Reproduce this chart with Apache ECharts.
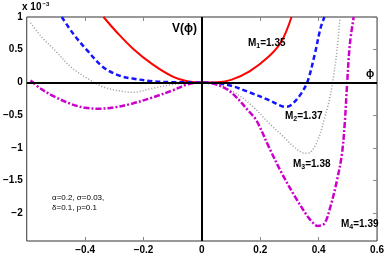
<!DOCTYPE html>
<html>
<head>
<meta charset="utf-8">
<script src="https://cdn.jsdelivr.net/npm/echarts@6/dist/echarts.min.js"></script>
<style>
  html, body { margin: 0; padding: 0; background: #fff; }
  #chart { width: 387px; height: 255px; }
</style>
</head>
<body>
<div id="chart"></div>
<script>
// V(phi) curves, values in units of 1e-3
const phiM1 = [-0.337, -0.29, -0.237, -0.17, -0.10, -0.05, 0, 0.05, 0.10, 0.163, 0.23, 0.273, 0.307];
const vM1 = [1.0, 0.76, 0.52, 0.28, 0.09, 0.02, 0, 0.005, 0.04, 0.17, 0.40, 0.63, 1.0];

const phiM2 = [-0.48, -0.44, -0.393, -0.337, -0.28, -0.237, -0.17, -0.10, 0, 0.05, 0.10, 0.163, 0.23, 0.273, 0.29, 0.307, 0.34, 0.363, 0.387, 0.407, 0.42];
const vM2 = [1.0, 0.74, 0.49, 0.23, 0.10, 0.06, 0.02, 0.005, 0, -0.01, -0.05, -0.15, -0.27, -0.36, -0.37, -0.34, -0.17, 0.03, 0.44, 0.84, 1.0];

const phiM3 = [-0.587, -0.55, -0.503, -0.447, -0.38, -0.337, -0.28, -0.237, -0.17, -0.10, -0.05, 0, 0.05, 0.10, 0.163, 0.23, 0.273, 0.32, 0.353, 0.373, 0.397, 0.42, 0.435, 0.447, 0.463, 0.473];
const vM3 = [0.91, 0.70, 0.49, 0.23, 0.03, -0.07, -0.13, -0.15, -0.09, -0.03, -0.01, 0, -0.02, -0.12, -0.32, -0.62, -0.80, -1.0, -1.08, -1.06, -0.88, -0.55, -0.30, -0.02, 0.5, 1.0];

const phiM4 = [-0.587, -0.55, -0.503, -0.447, -0.40, -0.35, -0.30, -0.237, -0.17, -0.10, -0.05, 0, 0.05, 0.10, 0.163, 0.187, 0.23, 0.273, 0.32, 0.363, 0.387, 0.397, 0.42, 0.44, 0.463, 0.48, 0.49, 0.497, 0.507, 0.52];
const vM4 = [0.03, -0.10, -0.22, -0.33, -0.385, -0.40, -0.38, -0.32, -0.23, -0.12, -0.03, 0, -0.03, -0.15, -0.45, -0.58, -0.99, -1.38, -1.75, -2.05, -2.17, -2.19, -2.15, -1.90, -1.49, -1.08, -0.58, -0.05, 0.59, 1.0];

const xTicks = [-0.4, -0.2, 0, 0.2, 0.4, 0.6];
const yTicks = [-2, -1.5, -1, -0.5, 0, 0.5, 1];

const pairs = (xs, ys) => xs.map((x, i) => [x, ys[i]]);
const minus = v => String(v).replace('-', '\u2212');

const chart = echarts.init(document.getElementById('chart'), null, { renderer: 'canvas' });

const FONT = 'Liberation Sans, Arial, sans-serif';
const labelFont = { fontFamily: FONT, fontWeight: 'bold', fontSize: 10, color: '#000' };
const sub = { fontFamily: FONT, fontWeight: 'bold', fontSize: 7, padding: [6, 0, 0, 0], fill: '#000' };
const main = { fontFamily: FONT, fontWeight: 'bold', fontSize: 10, fill: '#000' };

function mLabel(left, top, n, val) {
    return {
        type: 'text', left: left, top: top, z: 100,
        style: {
            text: '{a|M}{s|' + n + '}{a|=' + val + '}',
            rich: { a: main, s: sub }
        }
    };
}

function curve(name, xs, ys, lineStyle, extra) {
    return Object.assign({
        type: 'line', name: name, data: pairs(xs, ys),
        smooth: 0.35, symbol: 'none',
        lineStyle: lineStyle
    }, extra || {});
}

const option = {
    animation: false,
    grid: { left: 22, right: 6, top: 17, bottom: 14, show: true, borderColor: '#333', borderWidth: 1 },
    xAxis: [
        {
            type: 'value', min: -0.6, max: 0.6, position: 'bottom',
            axisLine: { show: false, onZero: false },
            splitLine: { show: false },
            axisTick: { show: true, inside: true, length: 4, customValues: xTicks, lineStyle: { color: '#888' } },
            axisLabel: { show: true, customValues: xTicks, margin: 4, formatter: minus, ...labelFont }
        },
        {
            type: 'value', min: -0.6, max: 0.6, position: 'top',
            axisLine: { show: false, onZero: false },
            splitLine: { show: false },
            axisTick: { show: true, inside: true, length: 4, customValues: xTicks, lineStyle: { color: '#888' } },
            axisLabel: { show: false }
        }
    ],
    yAxis: [
        {
            type: 'value', min: -2.42, max: 1, position: 'left',
            axisLine: { show: false, onZero: false },
            splitLine: { show: false },
            axisTick: { show: false },
            axisLabel: { show: true, customValues: yTicks, margin: 4, formatter: minus, ...labelFont }
        },
        {
            type: 'value', min: -2.42, max: 1, position: 'right',
            axisLine: { show: false, onZero: false },
            splitLine: { show: false },
            axisTick: { show: true, inside: true, length: 4, customValues: yTicks, lineStyle: { color: '#888' } },
            axisLabel: { show: false }
        }
    ],
    series: [
        curve('M1', phiM1, vM1, { color: '#ff0000', width: 2, type: 'solid' }, {
            markLine: {
                silent: true, symbol: 'none', label: { show: false },
                lineStyle: { color: '#000', width: 2, type: 'solid' },
                data: [{ xAxis: 0 }, { yAxis: 0 }]
            }
        }),
        curve('M2', phiM2, vM2, { color: '#1414ff', width: 2.5, type: [5, 3] }),
        curve('M3', phiM3, vM3, { color: '#999', width: 1.5, type: [1, 2] }),
        curve('M4', phiM4, vM4, { color: '#cc00cc', width: 2.5, type: [6, 2, 2, 2] })
    ],
    graphic: [
        {
            type: 'text', left: 22, top: 1, z: 100,
            style: {
                text: '{a|x 10}{p|\u22123}',
                rich: {
                    a: main,
                    p: { fontFamily: FONT, fontWeight: 'bold', fontSize: 6, padding: [0, 0, 6, 1], fill: '#000' }
                }
            }
        },
        {
            type: 'text', left: 172, top: 23, z: 100,
            style: { text: 'V(\u03d5)', fontFamily: FONT, fontWeight: 'bold', fontSize: 12, fill: '#000' }
        },
        {
            type: 'text', left: 366, top: 68, z: 100,
            style: { text: '\u03d5', fontFamily: FONT, fontWeight: 'bold', fontSize: 11, fill: '#000' }
        },
        mLabel(248, 38, 1, '1.35'),
        mLabel(285, 111, 2, '1.37'),
        mLabel(293, 159, 3, '1.38'),
        mLabel(341, 219, 4, '1.39'),
        {
            type: 'text', left: 52, top: 193, z: 100,
            style: {
                text: '\u03b1=0.2, \u03c3=0.03,\n\u03b4=0.1, p=0.1',
                fontFamily: FONT, fontSize: 8, lineHeight: 10, fill: '#000'
            }
        }
    ]
};

chart.setOption(option);
</script>
</body>
</html>
